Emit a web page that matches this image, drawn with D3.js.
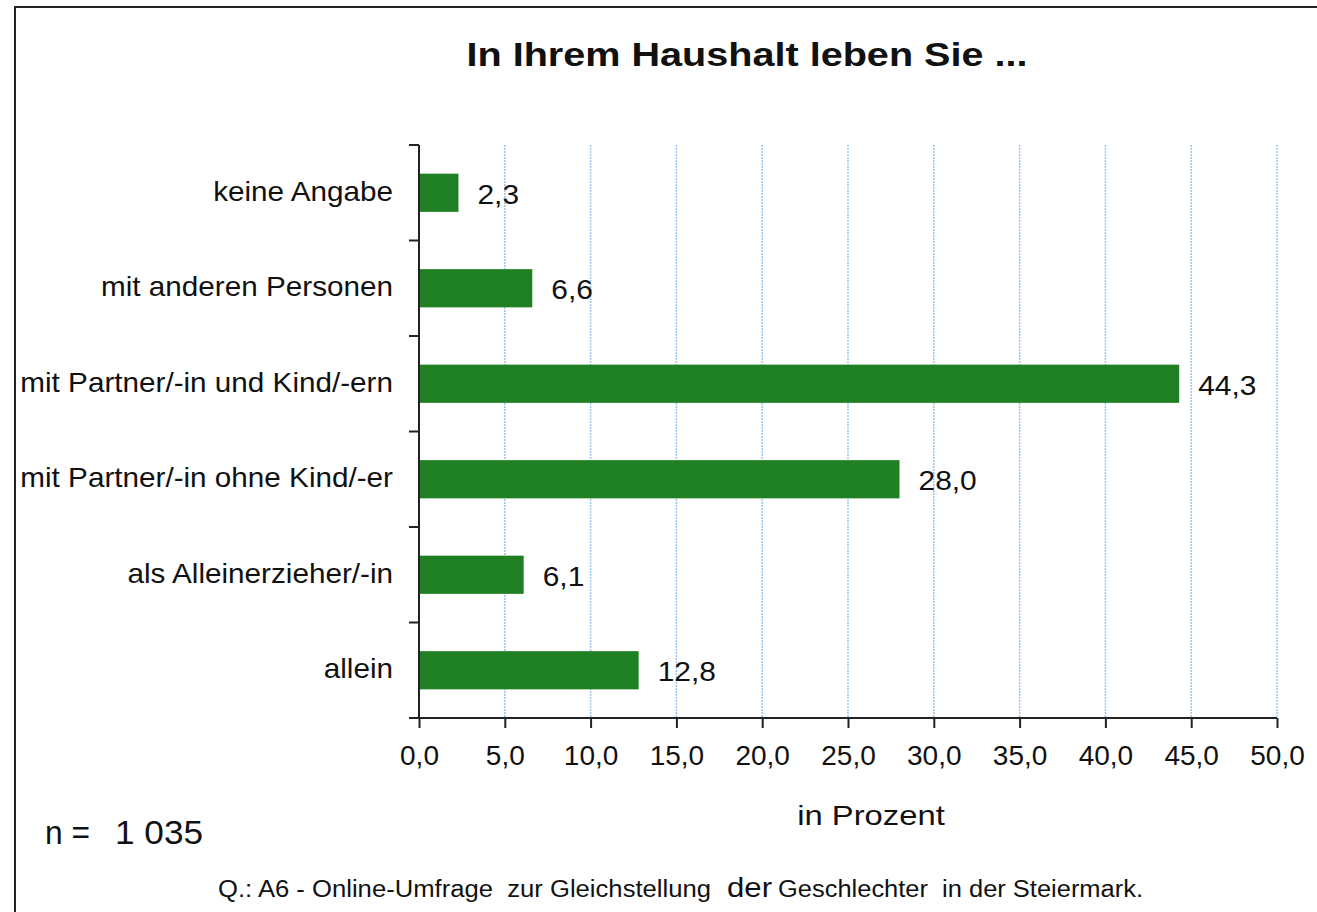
<!DOCTYPE html>
<html>
<head>
<meta charset="utf-8">
<script src="https://cdn.jsdelivr.net/npm/d3@7"></script>
<style>
  body { margin: 0; background: #fff; }
  svg { display: block; }
</style>
</head>
<body>
<div id="chart"></div>
<script>
// data, listed top to bottom as in the picture
let categories = ["keine Angabe", "mit anderen Personen", "mit Partner/-in und Kind/-ern",
    "mit Partner/-in ohne Kind/-er", "als Alleinerzieher/-in", "allein"];
let values = [2.3, 6.6, 44.3, 28.0, 6.1, 12.8];
let xTicks = [0, 5, 10, 15, 20, 25, 30, 35, 40, 45, 50];

let width = 1317, height = 912;
let plotLeft = 419, plotRight = 1277, plotTop = 145, plotBottom = 718;
let fmt = d => d.toFixed(1).replace(".", ",");
let ink = "#111";

let svg = d3.select("#chart").append("svg")
    .attr("width", width)
    .attr("height", height)
    .attr("font-family", "'Liberation Sans', Arial, sans-serif");

// text that is a bit wider than the font gives
function stretched(parent, x, y, sx) {
    return parent.append("g")
        .attr("transform", "translate(" + x + "," + y + ") scale(" + sx + ",1)")
        .append("text")
        .attr("fill", ink);
}

// frame
svg.append("rect")
    .attr("x", 15).attr("y", 7)
    .attr("width", width + 20).attr("height", height + 20)
    .attr("fill", "#fff")
    .attr("stroke", "#222")
    .attr("stroke-width", 2);

let x = d3.scaleLinear().domain([0, 50]).range([plotLeft, plotRight]);
let y = d3.scaleBand().domain(categories).range([plotTop, plotBottom]).paddingInner(0.6).paddingOuter(0.3);
let yb = d3.scaleBand().domain(categories).range([plotTop, plotBottom]);

// grid lines
svg.append("g")
    .selectAll("line")
    .data(xTicks.slice(1))
    .enter().append("line")
    .attr("x1", d => x(d)).attr("x2", d => x(d))
    .attr("y1", plotTop).attr("y2", plotBottom)
    .attr("stroke", "#9cc6ec")
    .attr("stroke-width", 1.5)
    .attr("stroke-dasharray", "2,1");

// bars
svg.append("g")
    .selectAll("rect")
    .data(values)
    .enter().append("rect")
    .attr("x", x(0))
    .attr("y", (d, i) => y(categories[i]))
    .attr("width", d => x(d) - x(0))
    .attr("height", y.bandwidth())
    .attr("fill", "#1f7f23");

// value labels
values.forEach(function (d, i) {
    stretched(svg, x(d) + 19, y(categories[i]) + y.bandwidth() / 2 + 11, 1.07)
        .attr("font-size", 28)
        .text(fmt(d));
});

// x axis
let xAxis = svg.append("g")
    .attr("transform", "translate(0," + plotBottom + ")")
    .call(d3.axisBottom(x).tickValues(xTicks).tickFormat(fmt).tickSize(10).tickSizeOuter(0).tickPadding(17));
xAxis.select(".domain").remove();
xAxis.append("line")
    .attr("x1", plotLeft - 10).attr("x2", plotRight)
    .attr("stroke", "#222").attr("stroke-width", 2);
xAxis.selectAll(".tick line").attr("stroke", "#222").attr("stroke-width", 2);
xAxis.selectAll(".tick text")
    .attr("font-size", 28)
    .attr("font-family", "'Liberation Sans', Arial, sans-serif")
    .attr("fill", ink);

// y axis
let yAxisG = svg.append("g");
yAxisG.append("line")
    .attr("x1", plotLeft).attr("x2", plotLeft)
    .attr("y1", plotTop).attr("y2", plotBottom)
    .attr("stroke", "#222").attr("stroke-width", 2);
yAxisG.selectAll("line.tk")
    .data(categories.concat(["end"]))
    .enter().append("line")
    .attr("class", "tk")
    .attr("x1", plotLeft - 10).attr("x2", plotLeft)
    .attr("y1", (d, i) => plotTop + i * yb.bandwidth())
    .attr("y2", (d, i) => plotTop + i * yb.bandwidth())
    .attr("stroke", "#222").attr("stroke-width", 2);
categories.forEach(function (c) {
    stretched(yAxisG, 393, yb(c) + yb.bandwidth() / 2 + 8, 1.06)
        .attr("text-anchor", "end")
        .attr("font-size", 28)
        .text(c);
});

// title
stretched(svg, 747, 66, 1.2)
    .attr("text-anchor", "middle")
    .attr("font-size", 33)
    .attr("font-weight", "bold")
    .text("In Ihrem Haushalt leben Sie ...");

// axis title
stretched(svg, 871, 825, 1.17)
    .attr("text-anchor", "middle")
    .attr("font-size", 28)
    .text("in Prozent");

// sample size
svg.append("text")
    .attr("x", 45).attr("y", 844)
    .attr("font-size", 34)
    .attr("fill", ink)
    .attr("textLength", 45)
    .attr("lengthAdjust", "spacingAndGlyphs")
    .text("n =");
svg.append("text")
    .attr("x", 115).attr("y", 844)
    .attr("font-size", 34)
    .attr("fill", ink)
    .attr("textLength", 88)
    .attr("lengthAdjust", "spacingAndGlyphs")
    .text("1 035");

// source line
let srcParts = [
    {text: "Q.: A6 - Online-Umfrage  zur Gleichstellung", x: 218, len: 493, size: 23},
    {text: "der", x: 727, len: 45, size: 28},
    {text: "Geschlechter  in der Steiermark.", x: 778, len: 365, size: 23}
];
svg.append("g")
    .selectAll("text")
    .data(srcParts)
    .enter().append("text")
    .attr("x", d => d.x)
    .attr("y", 897)
    .attr("font-size", d => d.size)
    .attr("fill", ink)
    .attr("xml:space", "preserve")
    .attr("textLength", d => d.len)
    .attr("lengthAdjust", "spacingAndGlyphs")
    .text(d => d.text);
</script>
</body>
</html>
